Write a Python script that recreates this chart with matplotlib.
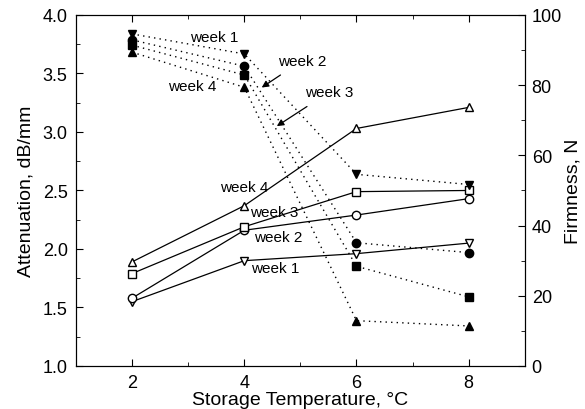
import matplotlib.pyplot as plt
from matplotlib.ticker import MultipleLocator, FormatStrFormatter

plt.rcParams['font.family'] = ['Liberation Sans', 'DejaVu Sans']

temps = [2, 4, 6, 8]
weeks = ["week 1", "week 2", "week 3", "week 4"]
markers = ["v", "o", "s", "^"]

# attenuation, dB/mm (open markers, left axis)
att_week1 = [1.55, 1.90, 1.96, 2.05]
att_week2 = [1.58, 2.16, 2.29, 2.43]
att_week3 = [1.79, 2.19, 2.49, 2.50]
att_week4 = [1.89, 2.37, 3.03, 3.21]

# firmness, N (filled markers, right axis)
firm_week1 = [94.6, 88.9, 54.6, 51.7]
firm_week2 = [92.9, 85.4, 35.1, 32.3]
firm_week3 = [91.4, 82.9, 28.4, 19.7]
firm_week4 = [89.4, 79.4, 12.9, 11.4]

att = [att_week1, att_week2, att_week3, att_week4]
firm = [firm_week1, firm_week2, firm_week3, firm_week4]

fig = plt.figure(figsize=(5.85, 4.1), dpi=100)
ax = fig.add_axes([0.130, 0.105, 0.767, 0.856])
ax2 = ax.twinx()

for vals, m in zip(att, markers):
    ax.plot(temps, vals, "-", color="black", lw=0.9, marker=m, ms=6,
            mfc="white", mec="black", mew=1.0)

for vals, m in zip(firm, markers):
    ax2.plot(temps, vals, color="black", lw=1.0, ls=(0, (1, 3)), marker=m,
             ms=6, mfc="black", mec="black")

ax.set_xlim(1, 9)
ax.set_ylim(1.0, 4.0)
ax2.set_ylim(0, 100)
ax.xaxis.set_major_locator(MultipleLocator(2))
ax.xaxis.set_minor_locator(MultipleLocator(1))
ax.yaxis.set_major_locator(MultipleLocator(0.5))
ax.yaxis.set_minor_locator(MultipleLocator(0.25))
ax.yaxis.set_major_formatter(FormatStrFormatter("%.1f"))
ax2.yaxis.set_major_locator(MultipleLocator(20))
ax2.yaxis.set_minor_locator(MultipleLocator(10))

ax.tick_params(which="both", direction="in", top=True, right=False,
               labelsize=13, pad=6)
ax.tick_params(which="major", length=5)
ax.tick_params(which="minor", length=3)
ax2.tick_params(which="both", direction="in", labelsize=13, pad=5)
ax2.tick_params(which="major", length=5)
ax2.tick_params(which="minor", length=3)

ax.set_xlabel("Storage Temperature, °C", fontsize=14, labelpad=0)
ax.set_ylabel("Attenuation, dB/mm", fontsize=14, labelpad=6)
ax2.set_ylabel("Firmness, N", fontsize=14, labelpad=2)

# week labels for firmness (top) and attenuation lines
ax.text(3.46, 3.81, "week 1", fontsize=11, ha="center", va="center")
ax.text(3.07, 3.39, "week 4", fontsize=11, ha="center", va="center")
ax.annotate("week 2", xy=(4.31, 3.38), xytext=(5.03, 3.61), fontsize=11,
            ha="center", va="center",
            arrowprops=dict(arrowstyle="-|>", color="black", lw=0.9,
                            shrinkA=6, shrinkB=0, mutation_scale=10))
ax.annotate("week 3", xy=(4.58, 3.05), xytext=(5.51, 3.34), fontsize=11,
            ha="center", va="center",
            arrowprops=dict(arrowstyle="-|>", color="black", lw=0.9,
                            shrinkA=6, shrinkB=0, mutation_scale=10))
ax.text(3.99, 2.53, "week 4", fontsize=11, ha="center", va="center")
ax.text(4.53, 2.32, "week 3", fontsize=11, ha="center", va="center")
ax.text(4.60, 2.10, "week 2", fontsize=11, ha="center", va="center")
ax.text(4.55, 1.84, "week 1", fontsize=11, ha="center", va="center")

fig.savefig("out.png", dpi=100)
